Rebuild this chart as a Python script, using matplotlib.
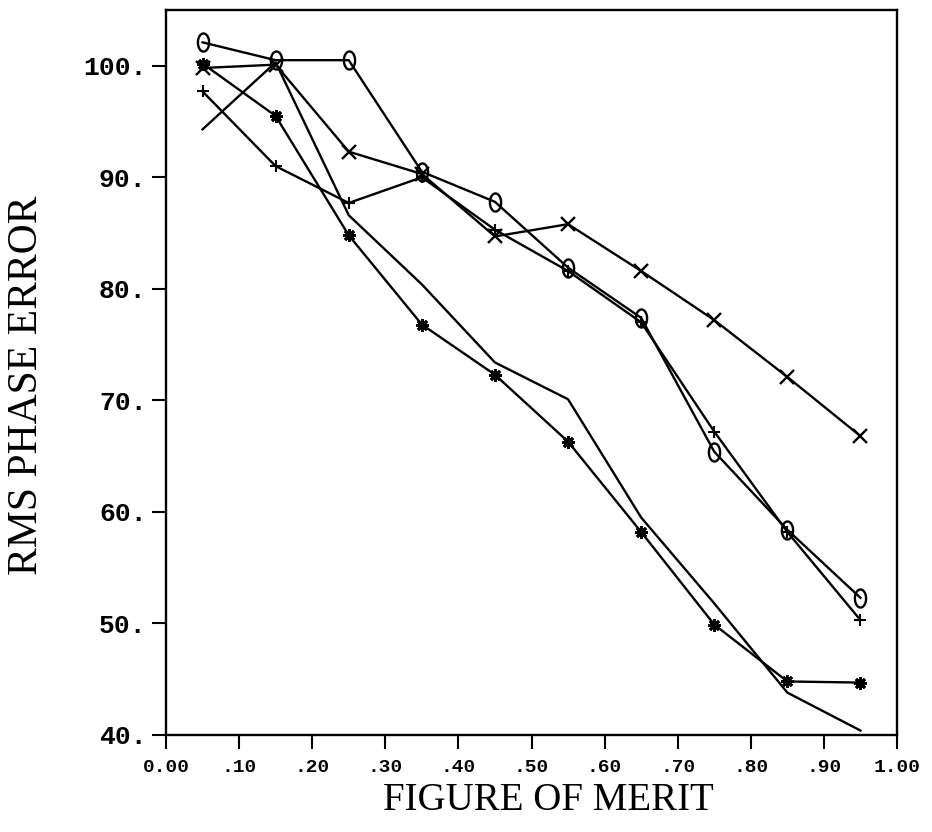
import numpy as np
import matplotlib
matplotlib.use("Agg")
import matplotlib.pyplot as plt
from matplotlib.path import Path

# Figure of merit bins (bin centres)
fom = [0.05, 0.15, 0.25, 0.35, 0.45, 0.55, 0.65, 0.75, 0.85, 0.95]

# RMS phase error per bin for each phasing run
err_o = [102.1, 100.5, 100.5, 90.5, 87.8, 81.9, 77.4, 65.4, 58.4, 52.3]
err_x = [99.8, 100.1, 92.3, 90.3, 84.7, 85.8, 81.6, 77.2, 72.1, 66.8]
err_plus = [97.7, 91.0, 87.7, 90.0, 85.3, 81.6, 77.0, 67.2, 58.2, 50.3]
err_star = [100.2, 95.5, 84.8, 76.8, 72.3, 66.3, 58.2, 49.9, 44.8, 44.7]
err_plain = [94.3, 100.3, 86.6, 80.4, 73.4, 70.1, 59.5, 51.8, 43.8, 40.4]

xticks = [0.0, 0.1, 0.2, 0.3, 0.4, 0.5, 0.6, 0.7, 0.8, 0.9, 1.0]
xticklabels = ["0.00", ".10", ".20", ".30", ".40", ".50", ".60", ".70", ".80", ".90", "1.00"]
yticks = [40, 50, 60, 70, 80, 90, 100]
yticklabels = ["40.", "50.", "60.", "70.", "80.", "90.", "100."]

# Tall narrow "O" marker
t = np.linspace(0, 2 * np.pi, 60)
o_marker = Path(np.column_stack([0.62 * np.cos(t), np.sin(t)]), closed=True)

fig = plt.figure(figsize=(9.32, 8.32), dpi=100)
ax = fig.add_axes([166 / 932, 97 / 832, 731 / 932, 725 / 832])

lw = 1.7
common = dict(color="black", lw=lw, mfc="none", mec="black")
ax.plot(fom, err_plain, color="black", lw=lw)
ax.plot(fom, err_o, marker=o_marker, ms=13, mew=1.7, **common)
ax.plot(fom, err_x, marker="x", ms=10, mew=1.7, **common)
ax.plot(fom, err_plus, marker="+", ms=8, mew=1.5, **common)
ax.plot(fom, err_star, marker=(8, 2, 0), ms=9, mew=2.0, **common)

ax.set_xlim(0, 1)
ax.set_ylim(40, 105)

mono = dict(family="Liberation Mono", weight="bold")
ax.set_xticks(xticks)
ax.set_xticklabels(xticklabels, fontsize=14, **mono)
ax.set_yticks(yticks)
ax.set_yticklabels(yticklabels, fontsize=19, **mono)
ax.tick_params(axis="x", direction="out", length=10, width=1.5, pad=7)
ax.tick_params(axis="y", direction="out", length=10, width=1.5, pad=4)

for s in ax.spines.values():
    s.set_linewidth(1.7)

ax.set_xlabel("FIGURE OF MERIT", va="center", family="Liberation Serif", fontsize=28)
ax.xaxis.set_label_coords(0.523, -0.09)
ax.set_ylabel("RMS PHASE ERROR", va="center", family="Liberation Serif", fontsize=30)
ax.yaxis.set_label_coords(-0.19, 0.483)

fig.savefig("out.png", dpi=100)
